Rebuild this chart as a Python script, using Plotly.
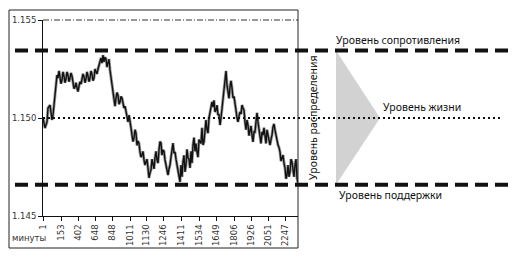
import plotly.graph_objects as go

# ---- data ----
sample = [0, 2, 4, 5, 7, 9, 10, 12, 13, 14, 15, 17, 19, 21, 23, 25, 27, 29, 30, 32,
          34, 36, 38, 39, 41, 43, 45, 47, 49, 51, 53, 55, 57, 58, 60, 61, 63, 65, 67, 69,
          71, 73, 75, 77, 79, 81, 83, 84, 86, 87, 89, 91, 93, 95, 97, 99, 101, 103, 105, 106,
          108, 110, 112, 114, 116, 118, 120, 122, 124, 125, 127, 129, 130, 132, 134, 137, 140, 142, 145, 147,
          150, 154, 157, 160, 162, 165, 167, 169, 170, 172, 174, 175, 177, 179, 180, 182, 184, 185, 187, 189,
          190, 192, 194, 195, 197, 199, 200, 202, 205, 207, 209, 210, 212, 214, 215, 217, 219, 220, 222, 225,
          227, 229, 230, 232, 234, 235, 237, 239, 240, 242, 244, 245, 247, 249, 250, 252, 254, 255]
price = [1.15000, 1.14949, 1.14980, 1.15051, 1.15066, 1.14990, 1.15015, 1.15117, 1.15194, 1.15219,
         1.15204, 1.15209, 1.15194, 1.15214, 1.15199, 1.15219, 1.15204, 1.15214, 1.15179, 1.15158,
         1.15153, 1.15163, 1.15173, 1.15204, 1.15209, 1.15199, 1.15214, 1.15204, 1.15224, 1.15204,
         1.15235, 1.15250, 1.15286, 1.15306, 1.15321, 1.15286, 1.15301, 1.15281, 1.15245, 1.15168,
         1.15092, 1.15102, 1.15117, 1.15082, 1.15102, 1.15051, 1.15031, 1.15000, 1.15015, 1.14964,
         1.14913, 1.14898, 1.14923, 1.14883, 1.14827, 1.14811, 1.14786, 1.14776, 1.14745, 1.14694,
         1.14735, 1.14760, 1.14796, 1.14786, 1.14837, 1.14872, 1.14837, 1.14786, 1.14745, 1.14709,
         1.14760, 1.14837, 1.14872, 1.14827, 1.14760, 1.14674, 1.14776, 1.14725, 1.14796, 1.14745,
         1.14862, 1.14827, 1.14878, 1.14862, 1.14929, 1.14923, 1.15031, 1.15082, 1.15056, 1.15031,
         1.15066, 1.15015, 1.14964, 1.15051, 1.15117, 1.15209, 1.15168, 1.15117, 1.15158, 1.15153,
         1.15102, 1.15061, 1.15000, 1.14980, 1.15031, 1.15066, 1.15051, 1.14980, 1.14964, 1.14939,
         1.14913, 1.14878, 1.14929, 1.15026, 1.14980, 1.14913, 1.14929, 1.14913, 1.14898, 1.14913,
         1.14862, 1.14913, 1.14954, 1.14939, 1.14903, 1.14862, 1.14827, 1.14796, 1.14811, 1.14745,
         1.14709, 1.14760, 1.14725, 1.14776, 1.14725, 1.14760, 1.14694, 1.14668]
# short-term wiggles read between the main points
sample_fine = [16, 18, 20, 22, 24, 26, 28, 31, 33, 35,
               37, 40, 42, 44, 46, 48, 50, 52, 54, 56,
               59, 62, 64, 66, 68, 70, 72, 74, 76, 78,
               80, 82, 85, 88, 90, 92, 94, 96, 98, 100,
               102, 104, 107, 109, 111, 113, 115, 117, 119, 121,
               123, 126, 128, 131, 133, 135, 136, 138, 139, 141,
               143, 144, 146, 148, 149, 151, 152, 153, 155, 156,
               158, 159, 161, 163, 164, 166, 168, 171, 173, 176,
               178, 181, 183, 186, 188, 191, 193, 196, 198, 201,
               203, 204, 206, 208, 211, 213, 216, 218, 221, 223,
               224, 226, 228, 231, 233, 236, 238, 241, 243, 246,
               248, 251, 253]
price_fine = [1.15240, 1.15175, 1.15235, 1.15180, 1.15235, 1.15185, 1.15230, 1.15150, 1.15180, 1.15135,
              1.15185, 1.15225, 1.15180, 1.15235, 1.15185, 1.15240, 1.15190, 1.15250, 1.15225, 1.15270,
              1.15280, 1.15310, 1.15260, 1.15300, 1.15210, 1.15120, 1.15060, 1.15130, 1.15070, 1.15110,
              1.15070, 1.15060, 1.14980, 1.14950, 1.14880, 1.14940, 1.14860, 1.14870, 1.14800, 1.14830,
              1.14760, 1.14790, 1.14720, 1.14790, 1.14740, 1.14830, 1.14770, 1.14880, 1.14810, 1.14830,
              1.14760, 1.14740, 1.14800, 1.14820, 1.14790, 1.14740, 1.14700, 1.14760, 1.14700, 1.14810,
              1.14760, 1.14840, 1.14790, 1.14830, 1.14770, 1.14900, 1.14830, 1.14870, 1.14800, 1.14890,
              1.14870, 1.14950, 1.14880, 1.14990, 1.14940, 1.15000, 1.15040, 1.15090, 1.15040, 1.15020,
              1.15000, 1.15150, 1.15240, 1.15100, 1.15190, 1.15110, 1.15040, 1.15010, 1.15020, 1.15040,
              1.14940, 1.14990, 1.14910, 1.14960, 1.14930, 1.14980, 1.14950, 1.14870, 1.14950, 1.14870,
              1.14940, 1.14890, 1.14890, 1.14970, 1.14910, 1.14850, 1.14780, 1.14770, 1.14690, 1.14700,
              1.14790, 1.14700, 1.14790]
assert len(sample) == len(price), (len(sample), len(price))
assert len(sample_fine) == len(price_fine), (len(sample_fine), len(price_fine))

tick_pos = [0, 18.7, 35.3, 52, 69.3, 87, 103.7, 120.3, 138.7, 156.3, 173.7, 191, 208.7, 225.3, 242]
tick_labels = ["1", "153", "402", "648", "848", "1011", "1130", "1246", "1411",
               "1534", "1649", "1806", "1926", "2051", "2247"]
y_ticks = [1.145, 1.150, 1.155]
y_tick_labels = ["1.145", "1.150", "1.155"]

resistance = 1.15345
life = 1.150
support = 1.1466

# merge main and fine readings in time order
pts = sorted(zip(sample + sample_fine, price + price_fine))
xs = [p[0] for p in pts]
ys = [p[1] for p in pts]

fig = go.Figure()
fig.add_trace(go.Scatter(x=xs, y=ys, mode="lines",
                         line=dict(color="#9a9a9a", width=3.0), hoverinfo="skip"))
fig.add_trace(go.Scatter(x=xs, y=ys, mode="lines",
                         line=dict(color="#111111", width=1.4)))

shapes = []
shapes.append(dict(type="rect", xref="paper", yref="paper", x0=-0.1333, x1=1.0,
                   y0=-0.1633, y1=1.051, line=dict(color="#222", width=1)))
shapes.append(dict(type="line", xref="paper", yref="paper", x0=0, x1=1, y0=1, y1=1,
                   line=dict(color="#333", width=1, dash="6px,2px,1px,2px")))
shapes.append(dict(type="path", xref="paper", yref="y",
                   path=f"M 1.149,{resistance} L 1.3216,{life} L 1.149,{support} Z",
                   fillcolor="#d2d2d2", line=dict(width=0), layer="above"))
shapes.append(dict(type="line", xref="paper", yref="y", x0=-0.1098, x1=1.8235,
                   y0=resistance, y1=resistance,
                   line=dict(color="#111", width=4, dash="13px,7px")))
shapes.append(dict(type="line", xref="paper", yref="y", x0=-0.1098, x1=1.8235,
                   y0=support, y1=support,
                   line=dict(color="#111", width=4, dash="13px,7px")))
shapes.append(dict(type="line", xref="paper", yref="y", x0=0, x1=1.804,
                   y0=life, y1=life,
                   line=dict(color="#111", width=2, dash="2px,3px")))

tf = dict(family="Noto Sans", size=10.5, color="#111")
annotations = [
    dict(text="Уровень сопротивления", x=1.3902, y=0.898),
    dict(text="Уровень жизни", x=1.488, y=0.556),
    dict(text="Уровень поддержки", x=1.361, y=0.107),
    dict(text="Уровень распределения", x=1.0588, y=0.505, textangle=-90),
]
for a in annotations:
    a.update(xref="paper", yref="paper", showarrow=False, xanchor="center",
             yanchor="middle", font=tf)
annotations.append(dict(text="минуты", x=-0.0549, y=-0.112, xref="paper", yref="paper",
                        showarrow=False, xanchor="center", yanchor="middle",
                        font=dict(family="DejaVu Sans", size=8.5, color="#333")))

fig.update_layout(
    width=523, height=259,
    margin=dict(l=43, r=225, t=20, b=43),
    paper_bgcolor="white", plot_bgcolor="white",
    showlegend=False,
    shapes=shapes, annotations=annotations,
    xaxis=dict(range=[0, 255], showgrid=False, zeroline=False, showline=True,
               linecolor="#111", linewidth=1, ticks="outside", ticklen=4,
               tickcolor="#111", tickvals=tick_pos, ticktext=tick_labels,
               tickangle=-90, tickfont=dict(family="DejaVu Sans", size=8.5, color="#333")),
    yaxis=dict(range=[1.145, 1.155], showgrid=False, zeroline=False, showline=True,
               linecolor="#111", linewidth=1, ticks="outside", ticklen=4,
               tickcolor="#111", tickvals=y_ticks, ticktext=y_tick_labels,
               tickfont=dict(family="DejaVu Sans", size=8.5, color="#333")),
)

fig.write_html("out.html")
